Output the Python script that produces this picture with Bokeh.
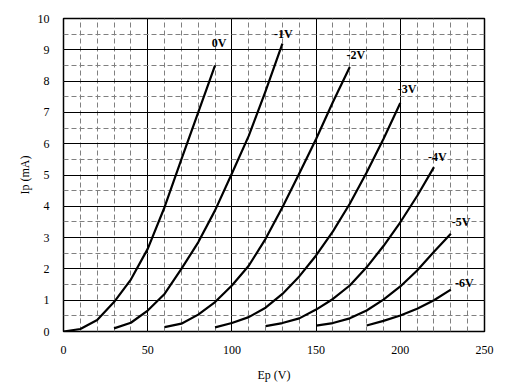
from bokeh.plotting import figure
from bokeh.models import SingleIntervalTicker, Range1d, ColumnDataSource
from bokeh.core.properties import value
from bokeh.embed import file_html
from bokeh.resources import INLINE

# Plate curves: Ep (V) vs Ip (mA) for each grid voltage
ep_0v = [0, 10, 20, 30, 40, 50, 60, 70, 80, 90]
ip_0v = [0.0, 0.08, 0.37, 0.94, 1.66, 2.64, 3.97, 5.5, 7.0, 8.5]

ep_1v = [30, 40, 50, 60, 70, 80, 90, 100, 110, 120, 130]
ip_1v = [0.1, 0.28, 0.67, 1.2, 2.0, 2.85, 3.87, 5.05, 6.25, 7.68, 9.2]

ep_2v = [60, 70, 80, 90, 100, 110, 120, 130, 140, 150, 160, 170]
ip_2v = [0.14, 0.25, 0.54, 0.94, 1.47, 2.1, 2.96, 3.97, 5.05, 6.15, 7.33, 8.45]

ep_3v = [90, 100, 110, 120, 130, 140, 150, 160, 170, 180, 190, 200]
ip_3v = [0.13, 0.27, 0.46, 0.76, 1.2, 1.76, 2.43, 3.2, 4.08, 5.08, 6.15, 7.3]

ep_4v = [120, 130, 140, 150, 160, 170, 180, 190, 200, 210, 220]
ip_4v = [0.17, 0.27, 0.42, 0.7, 1.04, 1.47, 2.05, 2.73, 3.49, 4.33, 5.25]

ep_5v = [150, 160, 170, 180, 190, 200, 210, 220, 230]
ip_5v = [0.19, 0.27, 0.42, 0.67, 1.02, 1.44, 1.95, 2.55, 3.12]

ep_6v = [180, 190, 200, 210, 220, 230]
ip_6v = [0.19, 0.34, 0.51, 0.73, 1.0, 1.34]

curve_labels = ["0V", "-1V", "-2V", "-3V", "-4V", "-5V", "-6V"]
label_x = [88, 125, 168, 198.5, 216.5, 230.5, 232.5]
label_y = [9.23, 9.52, 8.83, 7.76, 5.58, 3.51, 1.55]

x_ticks_interval = 50
y_ticks_interval = 1

p = figure(width=497, height=388, output_backend="svg", toolbar_location=None,
           x_range=Range1d(0, 250), y_range=Range1d(0, 10),
           min_border_left=63, min_border_right=13, min_border_top=18, min_border_bottom=57)

p.background_fill_color = "white"
p.border_fill_color = "white"
p.outline_line_color = "black"
p.outline_line_width = 1.5

xt = SingleIntervalTicker(interval=x_ticks_interval, num_minor_ticks=5)
yt = SingleIntervalTicker(interval=y_ticks_interval, num_minor_ticks=2)
p.xaxis.ticker = xt
p.yaxis.ticker = yt
p.xgrid.ticker = xt
p.ygrid.ticker = yt

for g in (p.xgrid, p.ygrid):
    g.grid_line_color = "black"
    g.grid_line_width = 1
    g.grid_line_alpha = 1
    g.minor_grid_line_color = "#808080"
    g.minor_grid_line_dash = "5 3"
    g.minor_grid_line_width = 1

for ax in (p.xaxis, p.yaxis):
    ax.axis_line_color = None
    ax.major_tick_line_color = None
    ax.minor_tick_line_color = None
    ax.major_tick_in = 0
    ax.major_tick_out = 0
    ax.minor_tick_in = 0
    ax.minor_tick_out = 0
    ax.major_label_text_font = "Liberation Serif"
    ax.major_label_text_font_size = "12px"
    ax.major_label_text_color = "black"
    ax.axis_label_text_font = "Liberation Serif"
    ax.axis_label_text_font_size = "12px"
    ax.axis_label_text_font_style = "normal"
    ax.axis_label_text_color = "black"

p.xaxis.major_label_standoff = 14
p.yaxis.major_label_standoff = 14
p.xaxis.axis_label = "Ep (V)"
p.yaxis.axis_label = "Ip (mA)"
p.xaxis.axis_label_standoff = 11
p.yaxis.axis_label_standoff = 3

curves = [(ep_0v, ip_0v), (ep_1v, ip_1v), (ep_2v, ip_2v), (ep_3v, ip_3v),
          (ep_4v, ip_4v), (ep_5v, ip_5v), (ep_6v, ip_6v)]
for xs, ys in curves:
    p.line(xs, ys, line_color="black", line_width=2.2, line_join="round")

src = ColumnDataSource(dict(x=label_x, y=label_y, t=curve_labels))
p.text(x="x", y="y", text="t", source=src, text_font=value("Liberation Serif"),
       text_font_size="12px", text_font_style="bold", text_color="black",
       text_align="left", text_baseline="middle")

open("out.html", "w").write(file_html(p, INLINE))
